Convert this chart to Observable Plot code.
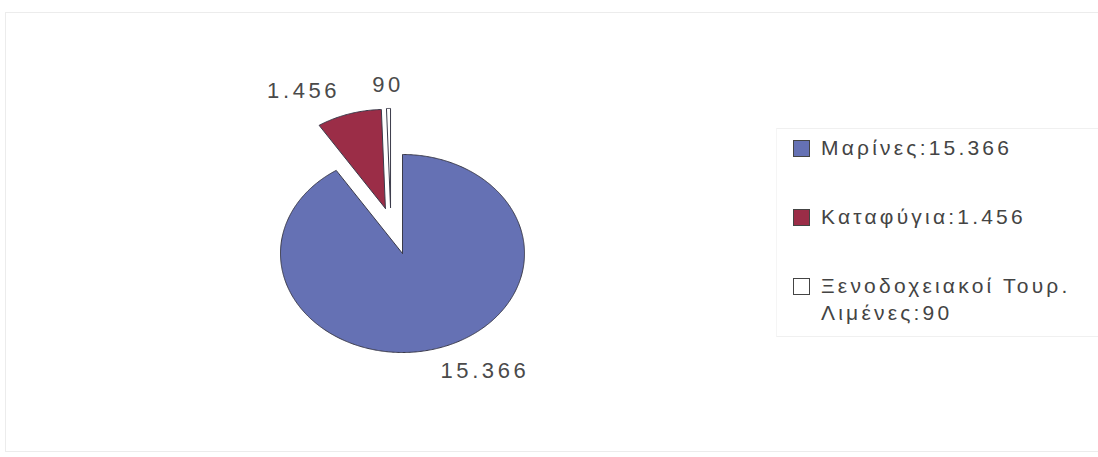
<!DOCTYPE html>
<html><head><meta charset="utf-8">
<script src="https://cdn.jsdelivr.net/npm/d3@7"></script>
<script src="https://cdn.jsdelivr.net/npm/@observablehq/plot@0.6"></script>
<style>
body{margin:0;background:#fff;font-family:"Liberation Sans",Arial,sans-serif}
#wrap{position:relative;width:1098px;height:457px;overflow:hidden}
#frame{position:absolute;left:5px;top:12px;width:1100px;height:440px;border:1px solid #ececec;box-sizing:border-box}
#legbox{position:absolute;left:776px;top:128px;width:340px;height:207px;border-top:1px solid #f0f0f0;border-bottom:1px solid #f0f0f0;border-left:1px solid #f5f5f5}
#legend{position:absolute;left:793px;top:134px;font-size:21px;letter-spacing:3.2px;color:#444}
.row{display:flex;align-items:flex-start;line-height:27px;margin-bottom:42px}
.sw{width:17px;height:17px;border:1px solid #444;box-sizing:border-box;margin-top:6px;margin-right:11px;flex:none}
svg{position:absolute;left:0;top:0}
</style></head>
<body><div id="wrap"><div id="frame"></div><div id="legbox"></div><div id="legend"></div></div>
<script>
const categories = ["Μαρίνες", "Καταφύγια", "Ξενοδοχειακοί Τουρ. Λιμένες"];
const values = [15366, 1456, 90];
const valueLabels = ["15.366", "1.456", "90"];
const legendLines = [["Μαρίνες:15.366"], ["Καταφύγια:1.456"], ["Ξενοδοχειακοί Τουρ.", "Λιμένες:90"]];
const colors = ["#6571b4", "#9b2d47", "#ffffff"];

// style constants: explosion offsets (in radius units) per slice
const explode = [[0, 0], [-0.14, 0.455], [-0.098, 0.465]];

const pie = d3.pie().sort(null).startAngle(0).endAngle(2 * Math.PI)(values);
const polys = [];
const labels = [];
pie.forEach((p, i) => {
  const [ox, oy] = explode[i];
  polys.push({k: categories[i], x: ox, y: oy});
  const n = Math.max(2, Math.ceil((p.endAngle - p.startAngle) / 0.01));
  for (let j = 0; j <= n; j++) {
    const a = p.startAngle + (p.endAngle - p.startAngle) * j / n;
    polys.push({k: categories[i], x: ox + Math.sin(a), y: oy + Math.cos(a)});
  }
  polys.push({k: categories[i], x: ox, y: oy});
  const m = (p.startAngle + p.endAngle) / 2;
  const r = 1.24;
  const s = Math.sin(m);
  labels.push({text: valueLabels[i], x: ox + s * r - (s > 0.1 ? 0.04 : 0), y: oy + Math.cos(m) * r,
    anchor: Math.abs(s) < 0.1 ? "middle" : (s > 0 ? "start" : "end")});
});

const W = 1098, H = 457, cx = 402, cy = 253, rx = 122, ry = 99;
const textOpts = {x: "x", y: "y", text: "text", fontSize: 22, fill: "#4a4a4a", fontFamily: "Liberation Sans, Arial, sans-serif"};
const chart = Plot.plot({
  width: W, height: H, margin: 0,
  x: {type: "linear", domain: [-cx / rx, (W - cx) / rx], range: [0, W], axis: null},
  y: {type: "linear", domain: [-(H - cy) / ry, cy / ry], range: [H, 0], axis: null},
  color: {domain: categories, range: colors},
  style: {background: "transparent", overflow: "visible"},
  marks: [
    Plot.line(polys, {x: "x", y: "y", z: "k", fill: "k", stroke: "#3a3a4a", strokeWidth: 1, curve: "linear"}),
    ...["start", "middle", "end"].map(a => Plot.text(labels.filter(d => d.anchor === a), {...textOpts, textAnchor: a}))
  ]
});
chart.querySelectorAll("text").forEach(t => t.setAttribute("letter-spacing", "3.6"));
document.getElementById("wrap").appendChild(chart);

const leg = document.getElementById("legend");
legendLines.forEach((lines, i) => {
  const row = document.createElement("div");
  row.className = "row";
  const sw = document.createElement("div");
  sw.className = "sw";
  sw.style.background = colors[i];
  const tx = document.createElement("div");
  tx.innerHTML = lines.join("<br>");
  row.appendChild(sw); row.appendChild(tx);
  leg.appendChild(row);
});
</script>
</body></html>
